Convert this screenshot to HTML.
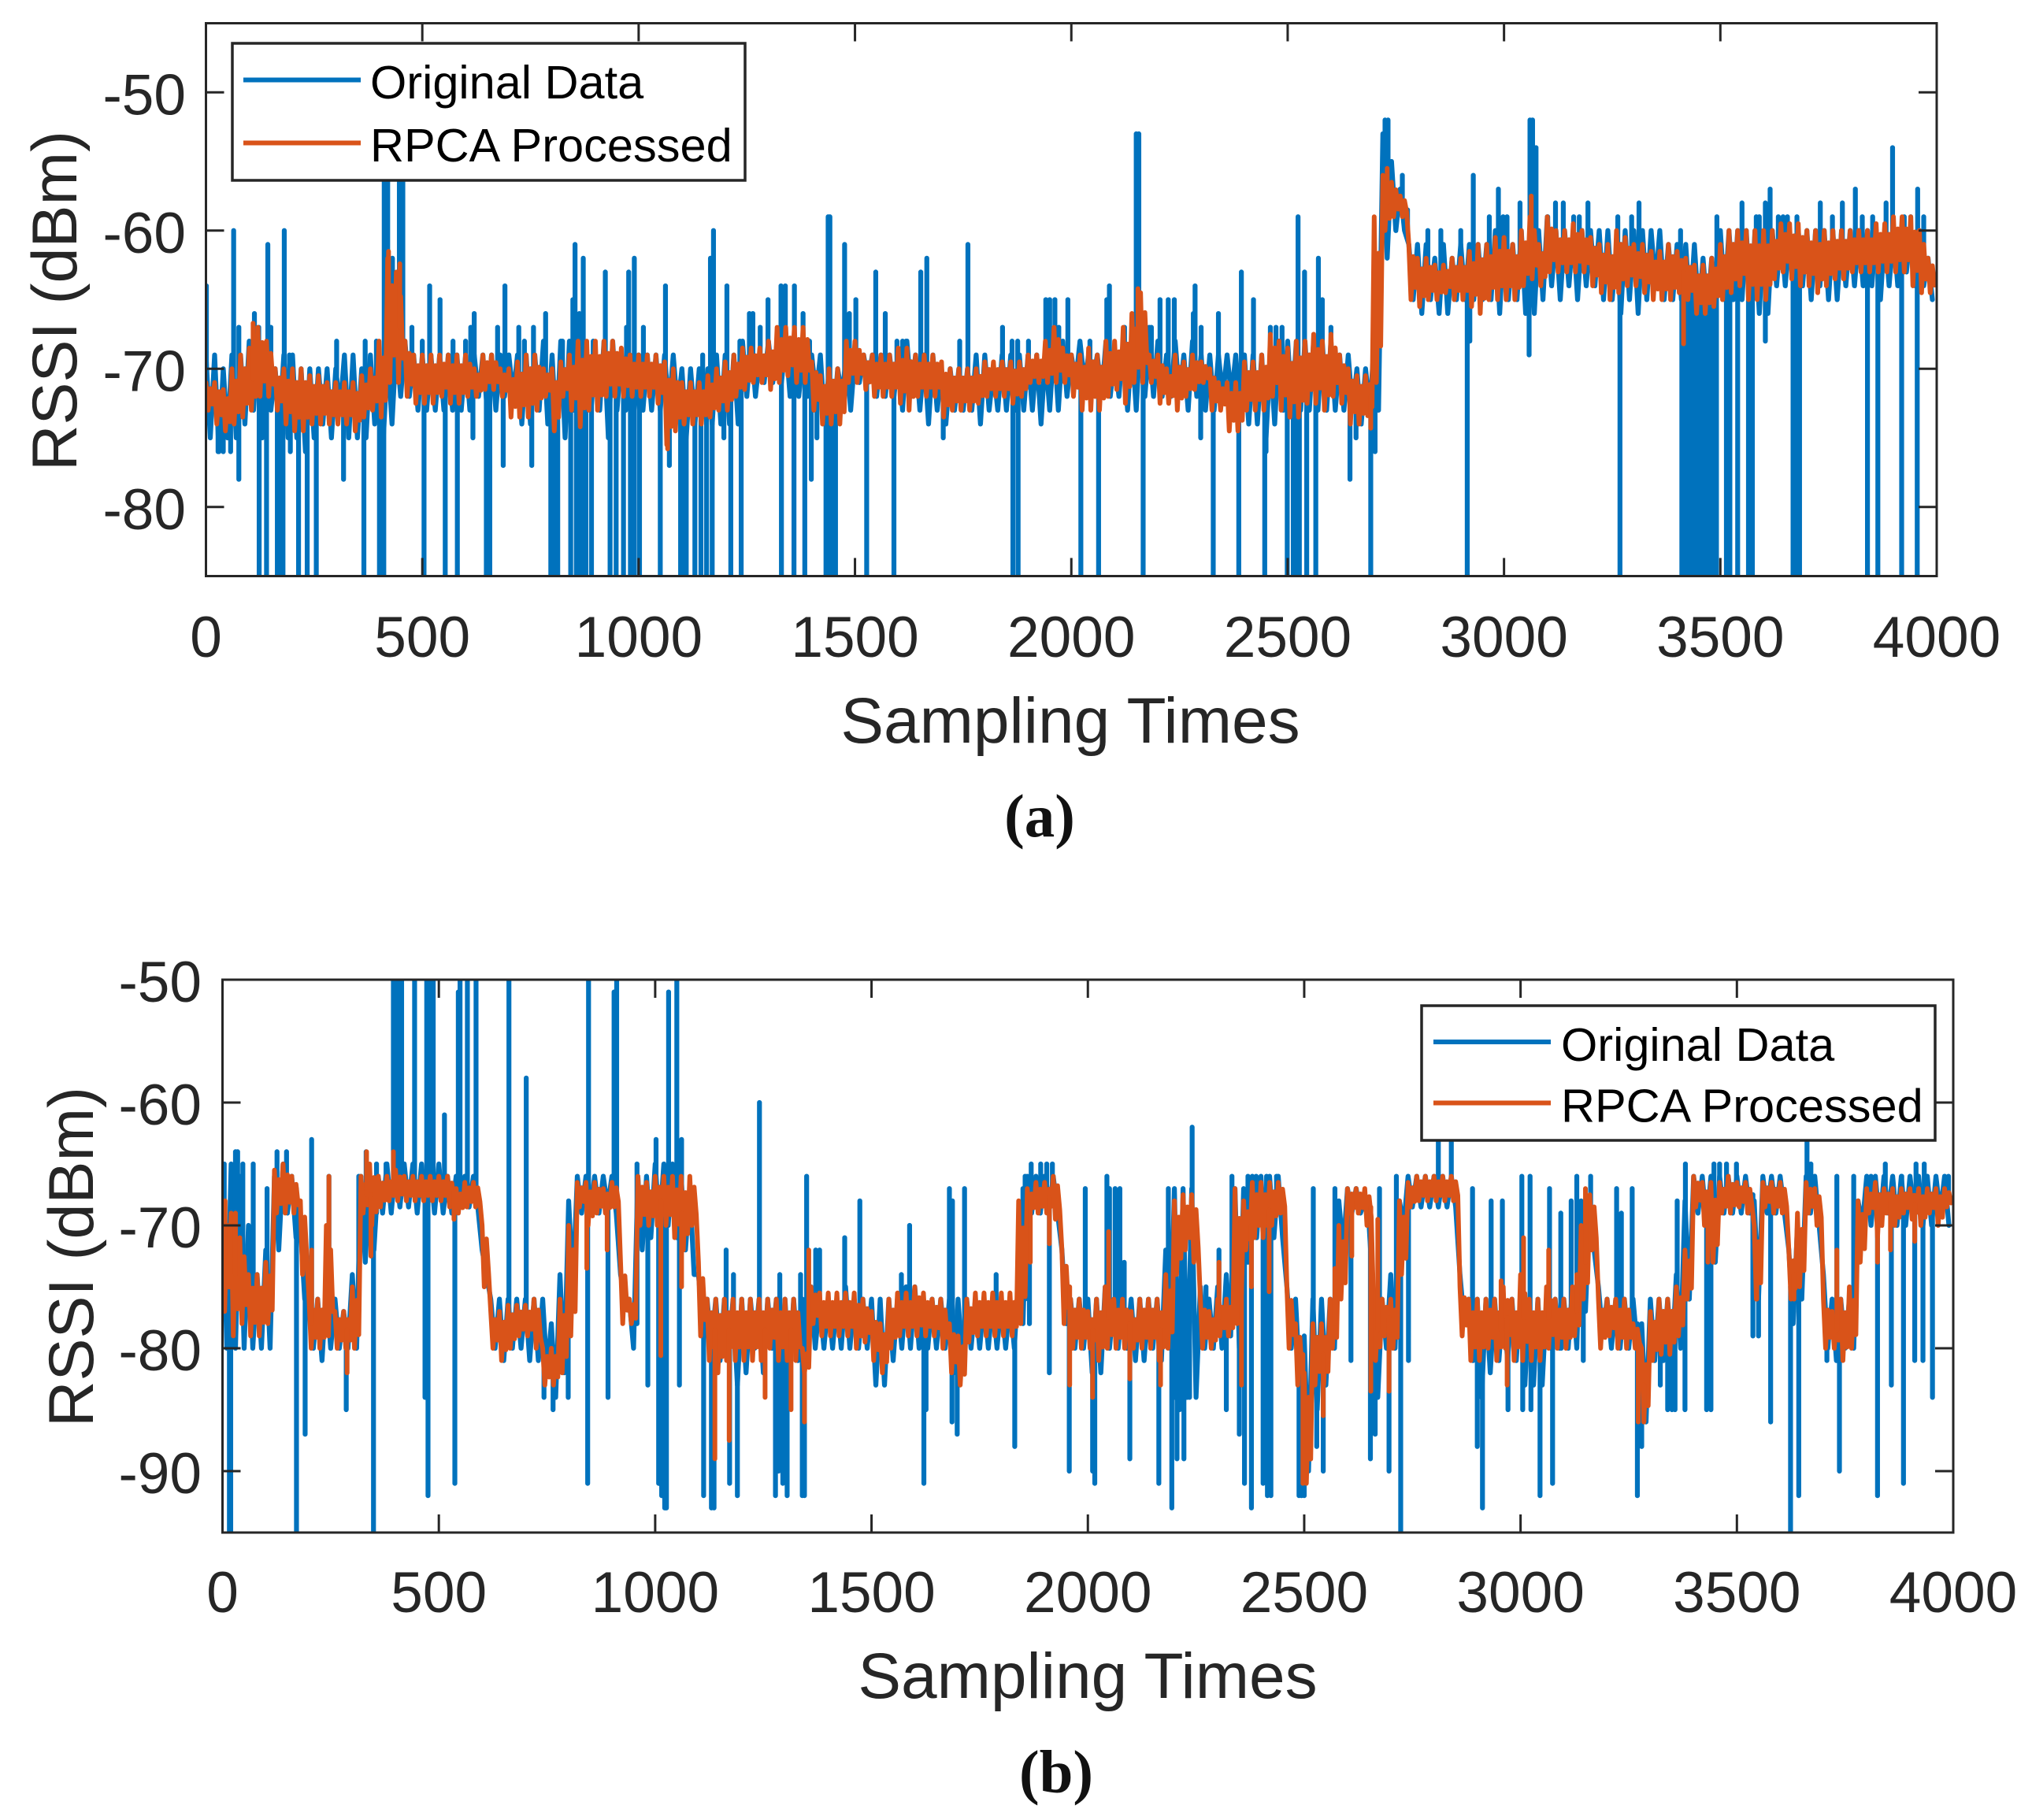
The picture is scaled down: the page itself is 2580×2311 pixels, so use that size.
<!DOCTYPE html>
<html lang="en">
<head>
<meta charset="utf-8">
<title>RSSI: Original Data vs RPCA Processed</title>
<style>
html,body{margin:0;padding:0;background:#fff;}
svg{display:block;}
text{font-family:"Liberation Sans",sans-serif;fill:#262626;}
.legend-text{fill:#000;font-size:59.5px;}
.tick-label{font-size:73px;}
.axis-title{font-size:81px;}
.x-title{font-size:82px;}
.caption{font-family:"Liberation Serif",serif;font-weight:bold;font-size:77px;fill:#111;}
</style>
</head>
<body>
<svg id="figure" xmlns="http://www.w3.org/2000/svg" width="2580" height="2311" viewBox="0 0 2580 2311">
  <rect x="0" y="0" width="2580" height="2311" fill="#fff"/>
  <defs>
    <clipPath id="clip-a"><rect x="261.5" y="29.5" width="2197.5" height="702"/></clipPath>
    <clipPath id="clip-b"><rect x="282.5" y="1244" width="2197.5" height="702"/></clipPath>
  </defs>
  <g id="panel-a"></g>
  <g id="panel-b"></g>
  <text class="caption" x="1320" y="1062" text-anchor="middle">(a)</text>
  <text class="caption" x="1341" y="2276" text-anchor="middle">(b)</text>
</svg>
<script>
// Shared axis data
const xTickValues = [0,500,1000,1500,2000,2500,3000,3500,4000];
const yTicksA = [-50,-60,-70,-80];
const yTicksB = [-50,-60,-70,-80,-90];
const binSize = 20; // samples per envelope bin

// Panel (a): Original Data, per-bin envelope
const origHiA = [
-69,-69,-70,-69,-69,-68,-68,-69,-70,-69,-69,-70,-70,-70,-70,-70,-69,-69,-70,-69,-69,-69,-68,-68,-69,
-69,-69,-69,-69,-69,-69,-69,-69,-69,-69,-69,-69,-69,-69,-68,-69,-68,-68,-69,-69,-69,-68,-68,-69,-69,
-69,-69,-69,-69,-69,-70,-70,-70,-70,-69,-69,-69,-68,-68,-69,-68,-68,-68,-68,-69,-69,-69,-70,-70,-69,
-69,-69,-69,-69,-69,-69,-68,-69,-69,-69,-70,-70,-70,-70,-69,-69,-70,-69,-69,-69,-69,-69,-69,-68,-68,
-69,-68,-69,-69,-68,-69,-68,-68,-67,-68,-68,-69,-68,-69,-68,-69,-69,-69,-69,-69,-69,-69,-69,-69,-68,
-68,-68,-68,-68,-68,-68,-69,-69,-70,-70,-68,-53,-55,-57,-61,-61,-61,-62,-61,-62,-61,-61,-61,-61,-60,
-60,-61,-60,-60,-60,-59,-60,-60,-60,-60,-60,-60,-60,-61,-60,-60,-60,-60,-60,-61,-61,-61,-61,-62,-62,
-60,-60,-60,-60,-60,-60,-60,-60,-60,-60,-60,-60,-60,-60,-60,-60,-60,-60,-60,-60,-60,-60,-60,-60,-62];
const origLoA = [
-75,-76,-75,-75,-74,-73,-75,-73,-74,-75,-75,-76,-75,-74,-75,-73,-75,-75,-75,-74,-75,-74,-72,-72,-73,
-73,-73,-73,-73,-73,-73,-72,-73,-73,-72,-72,-74,-74,-73,-74,-75,-75,-73,-72,-73,-73,-75,-73,-73,-73,
-73,-73,-73,-73,-73,-75,-74,-73,-74,-74,-74,-74,-72,-72,-71,-71,-71,-72,-72,-72,-72,-74,-74,-72,-73,
-71,-71,-72,-72,-72,-73,-72,-73,-74,-73,-74,-73,-73,-73,-74,-73,-73,-73,-73,-73,-73,-74,-73,-73,-72,
-71,-71,-71,-72,-72,-72,-73,-73,-72,-72,-72,-72,-72,-73,-72,-73,-73,-72,-72,-73,-74,-74,-75,-74,-73,
-73,-73,-73,-73,-73,-73,-73,-73,-74,-73,-73,-62,-60,-60,-65,-66,-65,-66,-66,-65,-65,-65,-65,-65,-66,
-65,-65,-66,-66,-65,-64,-65,-64,-65,-64,-64,-65,-65,-66,-65,-66,-65,-64,-65,-65,-65,-66,-66,-66,-65,
-65,-65,-65,-66,-66,-66,-64,-64,-64,-64,-65,-64,-65,-65,-64,-64,-64,-64,-65,-64,-64,-63,-64,-64,-65];
const origSpikesA = [
[1,-64],[64,-60],[76,-67],[112,-66],[122,-67],[143,-61],[150,-67],[181,-60],[193,-69],[302,-68],[368,-68],[394,-68],[412,-54],[420,-54],[431,-62],[447,-52],[455,-54],[476,-67],[500,-68],[517,-64],[541,-65],[571,-68],[600,-68],[612,-67],[620,-66],[674,-67],[691,-64],[723,-67],[736,-68],[757,-67],[785,-66],[824,-68],[848,-65],[853,-61],[863,-66],[872,-62],[895,-68],[923,-63],[972,-67],[977,-63],[990,-62],[1011,-67],[1062,-64],[1148,-69],[1166,-62],[1173,-60],[1204,-64],[1234,-68],[1256,-66],[1264,-66],[1281,-67],[1299,-65],[1329,-64],[1339,-64],[1360,-64],[1380,-66],[1395,-68],[1438,-59],[1442,-59],[1476,-61],[1487,-66],[1502,-65],[1548,-63],[1570,-66],[1597,-68],[1610,-68],[1618,-68],[1652,-63],[1666,-62],[1742,-68],[1761,-61],[1841,-67],[1863,-68],[1876,-68],[1901,-68],[1941,-65],[1950,-65],[1962,-65],[1971,-67],[1992,-65],[2043,-68],[2082,-65],[2088,-64],[2123,-67],[2150,-53],[2156,-53],[2180,-67],[2185,-67],[2205,-65],[2224,-65],[2238,-65],[2282,-66],[2286,-64],[2300,-67],[2340,-66],[2393,-63],[2421,-65],[2460,-67],[2473,-67],[2487,-67],[2524,-59],[2539,-63],[2571,-62],[2580,-65],[2600,-67],[2725,-52],[2732,-52],[2765,-56],[2777,-60],[2824,-60],[2854,-60],[2900,-60],[2929,-56],[2966,-59],[2987,-57],[2998,-59],[3007,-59],[3037,-58],[3060,-52],[3066,-52],[3074,-54],[3101,-59],[3119,-58],[3137,-58],[3161,-59],[3174,-59],[3194,-58],[3263,-59],[3295,-59],[3312,-58],[3408,-60],[3492,-59],[3550,-58],[3583,-59],[3590,-59],[3604,-58],[3615,-57],[3634,-59],[3645,-59],[3655,-59],[3677,-59],[3731,-58],[3759,-59],[3782,-58],[3812,-57],[3828,-59],[3852,-59],[3883,-58],[3898,-54],[3925,-59],[3940,-59],[3956,-57],[3970,-59],
[28,-76],[40,-76],[57,-76],[76,-78],[123,-85],[140,-85],[165,-85],[172,-85],[178,-85],[195,-76],[214,-85],[234,-85],[255,-85],[318,-78],[365,-85],[401,-85],[411,-85],[504,-85],[553,-85],[581,-85],[617,-75],[648,-85],[656,-85],[687,-77],[753,-77],[797,-85],[805,-85],[813,-85],[843,-85],[856,-85],[867,-85],[878,-85],[891,-85],[934,-85],[948,-85],[965,-85],[981,-85],[990,-85],[1002,-85],[1050,-85],[1071,-77],[1097,-85],[1103,-85],[1110,-85],[1130,-85],[1144,-85],[1157,-85],[1170,-85],[1197,-75],[1213,-85],[1237,-85],[1330,-85],[1359,-85],[1384,-85],[1399,-78],[1412,-75],[1433,-85],[1440,-85],[1447,-85],[1455,-85],[1527,-85],[1590,-85],[1704,-75],[1865,-85],[1877,-85],[2022,-85],[2063,-85],[2166,-85],[2299,-75],[2328,-85],[2387,-85],[2447,-85],[2450,-76],[2499,-85],[2513,-85],[2520,-85],[2527,-85],[2544,-85],[2565,-85],[2644,-78],[2658,-75],[2692,-85],[2702,-76],[2915,-85],[2921,-68],[3058,-69],[3268,-85],[3411,-85],[3419,-85],[3427,-85],[3435,-85],[3443,-85],[3451,-85],[3459,-85],[3467,-85],[3475,-85],[3483,-85],[3491,-85],[3514,-85],[3522,-85],[3540,-85],[3565,-85],[3574,-85],[3604,-68],[3668,-85],[3676,-85],[3683,-85],[3840,-85],[3864,-85],[3919,-85],[3955,-85]];

// Panel (a): RPCA Processed
const rpcaHiA = [
-71,-71,-71.5,-70,-69,-68.5,-67,-68,-70,-70,-70,-70,-70.5,-70.5,-71,-71,-71,-71,-70.5,-70,-68,-62,-63,-68,-69,
-69,-69,-69,-69,-69,-69,-70,-69,-69,-70,-70,-69.5,-69,-69,-70,-70,-69.5,-69,-68,-68,-68,-68,-68,-68.5,-69,
-69,-69,-69,-69.5,-70,-71,-71,-71,-70.5,-70,-69.5,-69,-68.5,-68.5,-68.5,-68,-67,-67,-67,-67,-69.5,-70.5,-70,-70,-68,
-68,-69,-69,-69,-69,-68.5,-68.5,-69,-69,-69,-69.5,-70,-70,-70,-70,-69.5,-69.5,-69.5,-69.5,-69.5,-69,-69,-68,-67,-68.5,
-69,-69,-68.5,-69,-68,-68,-67,-66,-64.5,-69,-69,-70,-69,-69.5,-69,-69.5,-70,-71,-71,-71,-69.5,-69.5,-69,-67.5,-68,
-68.5,-68,-68,-67.5,-68,-67.5,-69,-70,-70.5,-70.5,-59,-56,-56.5,-57.5,-61,-62,-62,-62.5,-62.5,-62,-62,-61.5,-61,-61,-60.5,
-60.5,-61,-60,-59,-61,-59,-60,-60,-59.5,-60,-60.5,-61,-61,-60,-60.5,-61,-61,-61.5,-61.5,-61,-61.5,-62,-62.5,-62.5,-62,
-61,-60,-60,-60,-60,-60,-60,-59.5,-59.5,-59.5,-60,-60,-60,-60,-60,-60,-60,-60,-59.5,-59.5,-59,-59,-59,-60,-62];
const rpcaLoA = [
-73,-74,-74.5,-74,-73.5,-73,-72,-72,-73,-74,-74.5,-74.5,-74,-74,-74,-74,-74,-74.5,-73.5,-73,-73.5,-71,-71,-72,-72.5,
-72.5,-72.5,-72,-72.5,-72.5,-72,-72,-71.5,-71.5,-72,-73.5,-73.5,-73.5,-73,-72,-74.5,-72,-73,-74.2,-73,-73,-72,-72,-72,-72,
-72,-72,-72.5,-75.5,-74.5,-74,-74,-74,-73.5,-73,-73,-72,-71.5,-71,-71,-71.5,-71,-70.5,-71,-71,-73,-74,-74,-74,-71,
-71,-71.5,-72,-72,-72,-72.5,-73,-72,-72,-72,-73.5,-73,-73,-73,-72.5,-72,-72,-72,-72.5,-72,-71,-71,-71,-71,-71,
-72,-73,-73,-73,-72,-71.5,-72.5,-71,-71,-71,-72.5,-72.5,-73,-72,-71.5,-71,-73,-73,-74.5,-74.5,-73,-73,-73,-72,-73,
-73.5,-73.5,-72.5,-72.5,-73,-72,-72.5,-74,-74,-73.4,-71,-60,-59,-59,-65,-65.5,-65,-65,-64.5,-65,-65,-65.5,-66,-65,-65,
-65,-65,-64,-63.5,-64,-63,-63,-63,-63,-63,-64,-64.5,-65,-64.5,-64,-64,-64.5,-65,-65,-65,-64.5,-65,-66,-66,-65.5,
-65,-64.5,-64,-65,-65,-65,-63.5,-63,-63.5,-64,-64,-64.5,-64,-63.5,-63.5,-63,-63,-63,-63,-63,-63,-63,-64,-64.5,-64.5];
const rpcaSpikesA = [[109,-66.7],[422,-61.5],[448,-62.4],[1067,-75.8],[2154,-64.2],[2692,-74.3],[2730,-55.5],[3063,-57.5],[3415,-68.2]];

// Panel (b): Original Data
const origHiB = [
-66,-65,-66,-70,-74,-72,-66,-65,-66,-70,-76,-76,-75,-76,-77,-74,-66,-66,-66,-65,-65,-65,-65,-65,-65,
-65,-66,-66,-66,-66,-72,-76,-76,-76,-76,-76,-76,-76,-78,-74,-68,-66,-66,-66,-66,-66,-74,-76,-66,-66,
-65,-65,-65,-66,-67,-74,-76,-76,-76,-76,-76,-76,-76,-76,-76,-76,-76,-76,-75,-76,-76,-76,-75,-76,-76,
-76,-76,-76,-76,-75,-75,-76,-76,-76,-76,-76,-76,-76,-76,-76,-76,-76,-74,-66,-66,-66,-66,-72,-76,-76,
-76,-76,-75,-76,-76,-76,-76,-76,-76,-72,-67,-67,-67,-75,-76,-75,-74,-67,-67,-66,-66,-66,-66,-75,-76,
-79,-76,-76,-76,-68,-67,-67,-68,-76,-76,-74,-68,-66,-66,-66,-66,-66,-66,-74,-76,-76,-76,-76,-76,-76,
-76,-76,-76,-76,-76,-76,-75,-68,-68,-75,-76,-76,-76,-76,-78,-76,-76,-76,-74,-68,-66,-66,-66,-66,-66,
-66,-66,-68,-66,-66,-66,-72,-70,-66,-66,-74,-76,-76,-76,-68,-66,-66,-66,-66,-66,-66,-66,-66,-66,-66];
const origLoB = [
-80,-80,-80,-80,-80,-80,-72,-69,-71,-76,-80,-81,-80,-80,-80,-80,-73,-72,-69,-69,-68.5,-68.5,-69,-69,-69,
-69,-69,-68.5,-68.5,-68.5,-74,-80,-81,-80,-80,-81,-81,-82,-84,-82,-75,-69,-69,-69,-68.5,-69,-76,-80,-72,-71,
-70,-70,-71,-72,-74,-78,-80,-81,-80,-83,-82,-80,-82,-80,-83,-82,-81,-80,-80,-80,-80,-80,-80,-80,-80,
-83,-83,-81,-80,-80,-80,-80,-80,-80,-82,-81,-80,-80,-80,-80,-80,-80,-78,-69,-69,-69,-69,-78,-80,-80,
-82,-82,-80,-80,-80,-81,-81,-80,-81,-80,-84,-84,-84,-80,-80,-80,-79,-80,-73,-71,-72,-71,-71,-80,-83,
-90,-85,-83,-80,-72,-69,-69,-70,-84,-80,-80,-70,-68.5,-68.5,-68.5,-68.5,-68.5,-68.5,-78,-81,-84,-82,-81,-81,-81,
-83,-83,-83,-80,-80,-80,-80,-77,-72,-79,-80,-80,-80,-80,-86,-81,-81,-81,-80,-76,-69,-70,-73,-69,-69,
-69,-69,-76,-69,-69,-69,-78,-76,-69,-70,-80,-81,-80,-80,-70,-70,-70,-69,-70,-70,-69,-70,-70,-69,-70];
const origSpikesB = [
[4,-65],[30,-64],[35,-64],[47,-65],[71,-65],[103,-67],[126,-64],[148,-64],[171,-67],[206,-63],[246,-66],[315,-66],[332,-64],[356,-65],[378,-65],[395,-50],[401,-50],[407,-50],[414,-50],[444,-50],[472,-50],[480,-50],[487,-50],[513,-61],[545,-51],[549,-50],[566,-50],[586,-50],[662,-50],[702,-58],[846,-50],[905,-51],[911,-50],[958,-65],[1002,-63],[1031,-51],[1050,-50],[1061,-63],[1164,-72],[1181,-74],[1241,-60],[1288,-74],[1336,-74],[1350,-66],[1371,-72],[1380,-72],[1438,-71],[1473,-68],[1569,-74],[1588,-70],[1680,-67],[1687,-68],[1715,-67],[1788,-74],[1850,-67],[1855,-66],[1869,-65],[1891,-65],[1905,-65],[1918,-65],[1994,-67],[2044,-66],[2050,-67],[2063,-67],[2074,-67],[2084,-73],[2186,-67],[2241,-62],[2273,-75],[2303,-72],[2333,-66],[2370,-66],[2389,-66],[2413,-66],[2436,-66],[2521,-67],[2571,-67],[2674,-67],[2713,-66],[2810,-60],[2840,-60],[2889,-67],[2932,-68],[2958,-68],[3003,-66],[3022,-66],[3067,-67],[3093,-69],[3117,-68],[3130,-66],[3162,-66],[3222,-67],[3233,-69],[3258,-67],[3362,-68],[3381,-65],[3447,-65],[3460,-65],[3476,-65],[3499,-65],[3662,-60],[3671,-65],[3731,-66],[3770,-66],[3810,-66],[3843,-65],[3881,-66],[3914,-65],[3933,-65],[3989,-66],
[16,-95],[19,-95],[171,-95],[191,-87],[286,-85],[349,-95],[468,-84],[475,-92],[537,-91],[743,-84],[764,-85],[799,-84],[844,-91],[891,-84],[983,-83],[1008,-91],[1015,-92],[1022,-93],[1026,-93],[1056,-83],[1112,-92],[1130,-93],[1136,-93],[1172,-91],[1190,-92],[1278,-92],[1285,-90],[1295,-91],[1305,-92],[1340,-92],[1345,-92],[1621,-91],[1626,-85],[1686,-86],[1698,-87],[1831,-88],[1865,-78],[1911,-82],[1957,-90],[2011,-90],[2016,-91],[2097,-89],[2164,-91],[2194,-93],[2200,-84],[2206,-89],[2212,-85],[2218,-84],[2222,-89],[2228,-84],[2235,-84],[2320,-85],[2350,-87],[2362,-91],[2378,-93],[2405,-91],[2415,-92],[2423,-92],[2488,-92],[2494,-92],[2500,-92],[2513,-89],[2529,-88],[2544,-90],[2608,-81],[2653,-89],[2664,-87],[2696,-90],[2723,-95],[2741,-81],[2900,-88],[2912,-93],[2971,-85],[3005,-85],[3024,-85],[3045,-92],[3074,-91],[3094,-80],[3145,-81],[3270,-92],[3280,-88],[3323,-83],[3340,-85],[3350,-85],[3357,-85],[3380,-85],[3430,-85],[3440,-85],[3537,-79],[3550,-79],[3578,-86],[3624,-95],[3643,-92],[3708,-81],[3737,-90],[3825,-92],[3857,-83],[3885,-91],[3911,-81],[3930,-81],[3952,-84]];

// Panel (b): RPCA Processed
const rpcaHiB = [
-68,-69,-71,-74,-74,-73,-65.5,-65,-66,-68,-76,-76,-70,-77,-77,-75,-66,-65,-66,-66,-65.5,-66,-66,-66,-66,
-66,-66,-67,-66.5,-66.5,-70,-77,-77,-76.5,-76.5,-76.5,-76,-80,-80,-76,-70,-66.5,-66.5,-66.5,-67,-66.5,-73,-76,-66,-66.5,
-66,-66,-66,-66,-66,-73,-76,-76,-76,-76,-76,-76,-76,-76,-76,-76,-76,-80,-75,-75.5,-75.5,-75.5,-75.5,-75.5,-76,
-77,-78,-76,-75.5,-75.5,-75,-75.5,-76,-76,-78,-79,-76,-75.5,-75.5,-75.5,-75.5,-75.5,-68,-67,-66.5,-66.5,-66,-72,-76,-76,
-77,-76,-75,-76,-76,-77,-76,-76,-76,-74,-68,-67.5,-67.5,-76,-77,-76,-76,-67,-68,-66.5,-66.5,-66.5,-66.5,-75,-78,
-82,-78,-78,-76,-70,-67,-67,-67,-76,-76,-76,-68,-66.5,-66,-66,-66,-66,-66,-75,-76,-76,-76,-76,-75,-76,
-74,-76,-76,-75,-76,-76,-75,-70,-67.5,-76,-76,-76,-76,-78,-80,-77,-76,-76,-75,-72,-66,-66.5,-66.5,-66.5,-66,
-66.5,-66.5,-70,-66.5,-66.5,-66.5,-72,-69,-66.5,-67,-76,-77,-76,-75,-68,-67,-66.5,-67,-67,-67,-67,-67,-67,-67,-67];
const rpcaLoB = [
-77,-79,-78,-79,-79,-78,-69,-69,-69,-74,-80,-80,-79,-80,-80,-80,-69,-70,-68.5,-68,-68,-68,-68,-68,-68,
-68,-68.5,-69,-68.5,-68.5,-75,-80,-81,-80,-79,-79,-80,-83,-83,-82,-79,-68.5,-70,-69,-69,-68.5,-78,-78,-70,-70,
-70,-70,-71,-72,-70,-79,-81,-82,-81,-81,-81,-81,-81,-80,-81,-81,-81,-82,-78,-79,-79,-79,-79,-80,-79.5,
-81,-82,-80,-79,-79,-79,-79,-79,-80,-82,-83,-79.5,-79,-79,-79,-79,-79,-78,-69,-69,-69,-69.5,-78,-80,-80,
-80,-81,-80,-80,-80,-80,-80,-80,-81,-80,-74,-72,-73,-80,-80,-79,-79,-78,-72,-71,-71,-70,-69,-80,-83,
-91,-83,-83,-80,-76,-69,-69,-70,-81,-79,-80,-74,-68.5,-68,-68,-68,-68,-68,-79,-81,-81,-80,-81,-80,-81,
-81,-81,-81,-80,-80,-80,-79,-76,-72,-80,-79,-80,-80,-80,-86,-81,-80.5,-80.5,-79,-76,-68.5,-70,-73,-69,-69,
-68.5,-69,-76,-68.5,-69,-69,-76,-75,-69,-70,-80,-80,-81,-80,-73,-69,-71,-69,-70,-69,-69.5,-70,-69,-70,-68.5];
const rpcaSpikesB = [[6,-68],[30,-69],[206,-72],[246,-66],[288,-82],[333,-64],[343,-72.5],[395,-64],[535,-69.5],[842,-73.5],[889,-72],[1013,-80.6],[1061,-75],[1138,-89],[1171,-87.5],[1254,-84],[1314,-85],[1345,-86],[1355,-72],[1867,-73],[1911,-71.5],[1958,-83],[2011,-84],[2048,-70.5],[2097,-82.5],[2168,-83],[2303,-73],[2355,-83],[2378,-75],[2419,-75.4],[2497,-91],[2544,-85.5],[2571,-73.5],[2610,-72.5],[2654,-83.5],[2670,-69.5],[2696,-83.5],[2955,-74.5],[2969,-83],[3007,-71],[3065,-72],[3130,-74],[3150,-67],[3272,-86],[3285,-86],[3433,-73],[3546,-76],[3632,-76],[3731,-72],[3825,-73],[3855,-72],[3911,-71.3]];

const SVGNS = 'http://www.w3.org/2000/svg';
const axisColor = '#262626';
const blue = '#0072BD';
const orange = '#D95319';

function linearScale(d0, d1, r0, r1) {
  return function (v) { return +(r0 + (v - d0) * (r1 - r0) / (d1 - d0)).toFixed(2); };
}

// Each bin draws `zigzags` strokes between its high and low value; every other
// stroke is shallower so the band edge reads as jagged rather than flat.
function bandPath(hi, lo, zigzags, x, y) {
  let d = '';
  const step = binSize / zigzags;
  hi.forEach(function (h, i) {
    for (let k = 0; k < zigzags; k++) {
      const t = i * binSize + k * step;
      const inset = k % 2 ? (h - lo[i]) * 0.22 : 0;
      d += (d ? 'L' : 'M') + x(t) + ' ' + y(h - inset) + 'L' + x(t + step / 2) + ' ' + y(lo[i] + inset);
    }
  });
  return d;
}

function spikePath(spikes, hi, lo, x, y) {
  let d = '';
  spikes.forEach(function (s) {
    const i = Math.min(hi.length - 1, Math.floor(s[0] / binSize));
    const base = (hi[i] + lo[i]) / 2;
    d += 'M' + x(s[0]) + ' ' + y(base) + 'L' + x(s[0]) + ' ' + y(s[1]);
  });
  return d;
}

function addSeriesPath(parent, d, color, width, clipId) {
  const p = document.createElementNS(SVGNS, 'path');
  p.setAttribute('d', d);
  p.setAttribute('fill', 'none');
  p.setAttribute('stroke', color);
  p.setAttribute('stroke-width', width);
  p.setAttribute('stroke-linejoin', 'round');
  p.setAttribute('stroke-linecap', 'round');
  p.setAttribute('clip-path', 'url(#' + clipId + ')');
  parent.appendChild(p);
  return p;
}

function addLine(parent, x1, y1, x2, y2, color, width) {
  const l = document.createElementNS(SVGNS, 'line');
  l.setAttribute('x1', x1);
  l.setAttribute('y1', y1);
  l.setAttribute('x2', x2);
  l.setAttribute('y2', y2);
  l.setAttribute('stroke', color);
  l.setAttribute('stroke-width', width);
  parent.appendChild(l);
  return l;
}

function addText(parent, cls, x, y, anchor, content) {
  const t = document.createElementNS(SVGNS, 'text');
  t.setAttribute('class', cls);
  t.setAttribute('x', x);
  t.setAttribute('y', y);
  t.setAttribute('text-anchor', anchor);
  t.textContent = content;
  parent.appendChild(t);
  return t;
}

function drawPanel(p) {
  const g = document.getElementById(p.id);
  const x = linearScale(0, 4000, p.left, p.right);
  const y = linearScale(p.yMax, p.yMin, p.top, p.bottom);

  const origBand = addSeriesPath(g, bandPath(p.origHi, p.origLo, 1, x, y), blue, 6.2, p.clip);
  
  
  const origSpikes = addSeriesPath(g, spikePath(p.origSpikes, p.origHi, p.origLo, x, y), blue, 6.2, p.clip);
  
  
  const rpcaBand = addSeriesPath(g, bandPath(p.rpcaHi, p.rpcaLo, 2, x, y), orange, 6, p.clip);
  
  
  const rpcaSpikes = addSeriesPath(g, spikePath(p.rpcaSpikes, p.rpcaHi, p.rpcaLo, x, y), orange, 6, p.clip);
  
  

  const box = document.createElementNS(SVGNS, 'rect');
  box.setAttribute('x', p.left);
  box.setAttribute('y', p.top);
  box.setAttribute('width', p.right - p.left);
  box.setAttribute('height', p.bottom - p.top);
  box.setAttribute('fill', 'none');
  box.setAttribute('stroke', axisColor);
  box.setAttribute('stroke-width', 3);
  
  
  g.appendChild(box);

  xTickValues.forEach(function (v) {
    const px = x(v);
    const tb = addLine(g, px, p.bottom, px, p.bottom - 23, axisColor, 3);
    
    
    const tt = addLine(g, px, p.top, px, p.top + 23, axisColor, 3);
    
    
    const lab = addText(g, 'tick-label', px, p.xLabelY, 'middle', String(v));
    
    
  });

  p.yTicks.forEach(function (v) {
    const py = y(v);
    const tl = addLine(g, p.left, py, p.left + 23, py, axisColor, 3);
    
    
    const tr = addLine(g, p.right, py, p.right - 23, py, axisColor, 3);
    
    
    const lab = addText(g, 'tick-label', p.yLabelX, py + 28, 'end', String(v));
    
    
  });

  const xTitle = addText(g, 'x-title', p.xTitleX, p.xTitleY, 'middle', 'Sampling Times');
  
  

  const yTitle = addText(g, 'axis-title', 0, 0, 'middle', 'RSSI (dBm)');
  yTitle.setAttribute('transform', 'translate(' + p.yTitleX + ' ' + p.yTitleY + ') rotate(-90)');
  
  

  const legend = document.createElementNS(SVGNS, 'g');
  
  
  g.appendChild(legend);

  const lb = p.legend;
  const bg = document.createElementNS(SVGNS, 'rect');
  bg.setAttribute('x', lb.x);
  bg.setAttribute('y', lb.y);
  bg.setAttribute('width', lb.w);
  bg.setAttribute('height', lb.h);
  bg.setAttribute('fill', '#fff');
  bg.setAttribute('stroke', axisColor);
  bg.setAttribute('stroke-width', 3.5);
  
  
  legend.appendChild(bg);

  const k1 = addLine(legend, lb.lineX1, lb.y1, lb.lineX2, lb.y1, blue, 6);
  
  
  const k2 = addLine(legend, lb.lineX1, lb.y2, lb.lineX2, lb.y2, orange, 6);
  
  
  const t1 = addText(legend, 'legend-text', lb.textX, lb.b1, 'start', 'Original Data');
  
  
  const t2 = addText(legend, 'legend-text', lb.textX, lb.b2, 'start', 'RPCA Processed');
  
  
}

drawPanel({
  id: 'panel-a', clip: 'clip-a',
  left: 261.5, right: 2459, top: 29.5, bottom: 731.5, yMin: -85, yMax: -45,
  yTicks: yTicksA,
  origHi: origHiA, origLo: origLoA, origSpikes: origSpikesA,
  rpcaHi: rpcaHiA, rpcaLo: rpcaLoA, rpcaSpikes: rpcaSpikesA,
  xLabelY: 834, yLabelX: 236, xTitleX: 1359, xTitleY: 943, yTitleX: 97, yTitleY: 382,
  legend: {x: 295, y: 55, w: 651, h: 174, lineX1: 309, lineX2: 458, y1: 101.5, y2: 181.5, textX: 470, b1: 125, b2: 205}
});

drawPanel({
  id: 'panel-b', clip: 'clip-b',
  left: 282.5, right: 2480, top: 1244, bottom: 1946, yMin: -95, yMax: -50,
  yTicks: yTicksB,
  origHi: origHiB, origLo: origLoB, origSpikes: origSpikesB,
  rpcaHi: rpcaHiB, rpcaLo: rpcaLoB, rpcaSpikes: rpcaSpikesB,
  xLabelY: 2047, yLabelX: 256, xTitleX: 1381, xTitleY: 2156, yTitleX: 118, yTitleY: 1596,
  legend: {x: 1805, y: 1277, w: 652, h: 171, lineX1: 1820, lineX2: 1969, y1: 1323, y2: 1400.5, textX: 1982, b1: 1347, b2: 1424.5}
});
</script>
</body>
</html>
